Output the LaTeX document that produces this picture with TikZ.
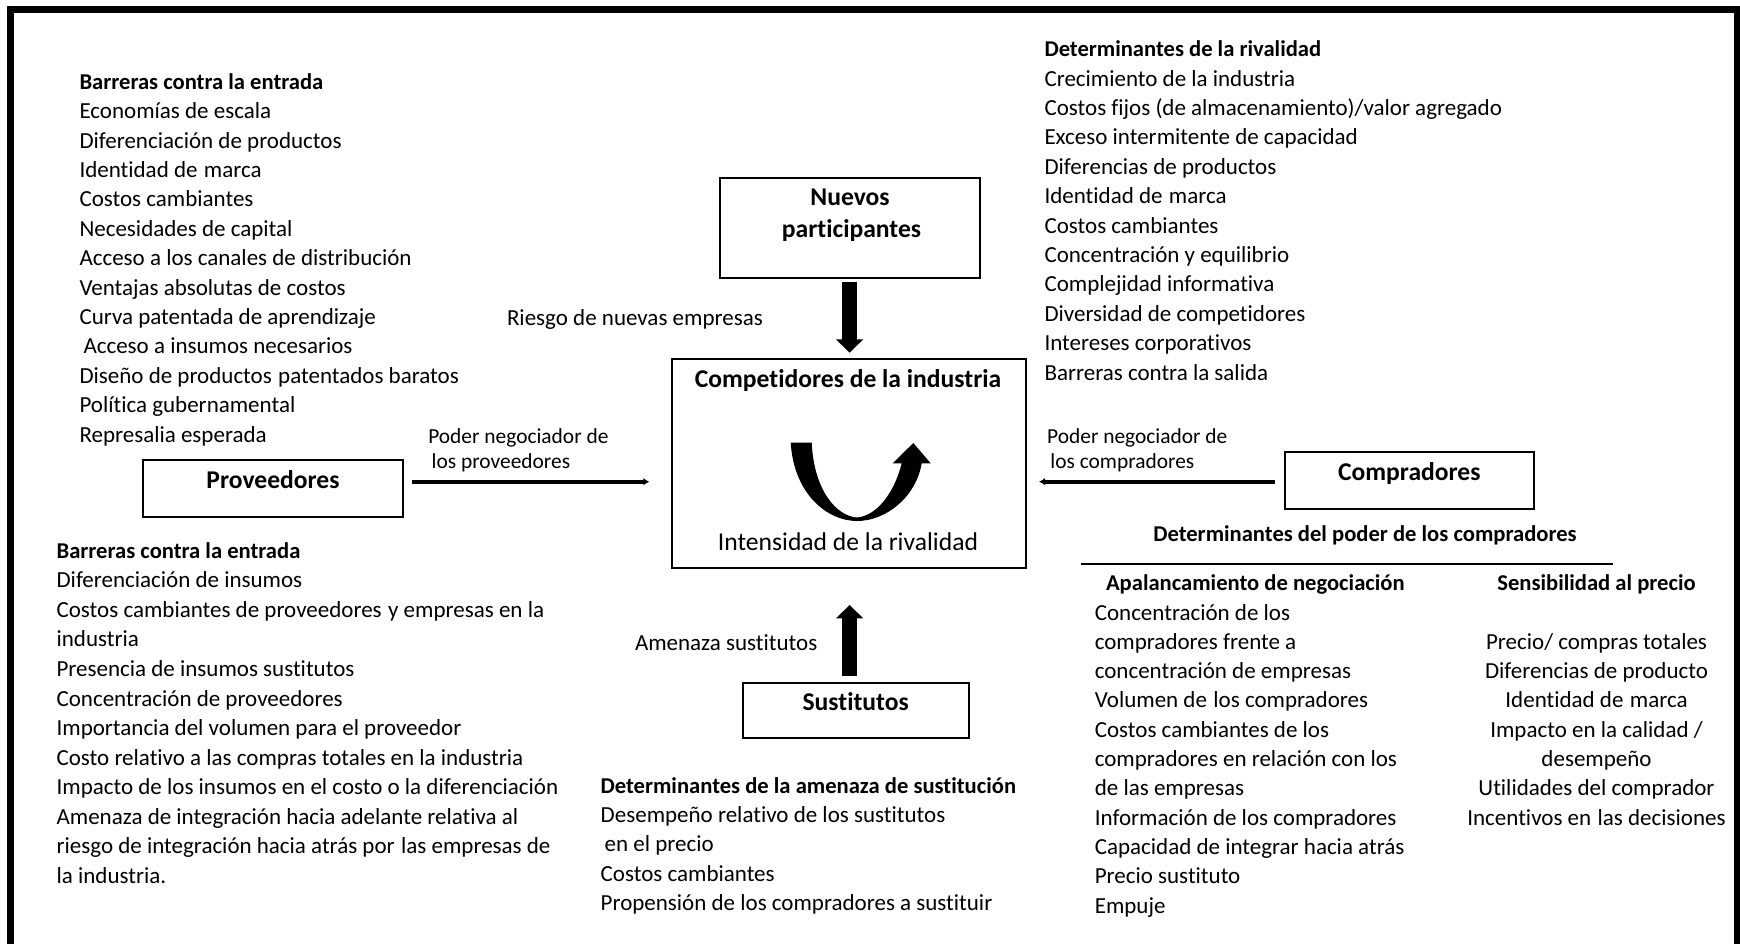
\documentclass[tikz,border=0pt]{standalone}
\usepackage{fontspec}
\setmainfont[Ligatures=NoCommon]{Carlito}
\usetikzlibrary{arrows.meta}
\newcommand\dsp{\hspace{0.28em}}
\begin{document}
\begin{tikzpicture}[x=0.5pt,y=-0.5pt,
  every node/.style={inner sep=0pt, outer sep=0pt},
  txt/.style={anchor=base west, font=\fontsize{11.5}{13.5}\selectfont},
  btxt/.style={anchor=base west, font=\fontsize{11.3}{13.5}\selectfont\bfseries},
  ctxt/.style={anchor=base, font=\fontsize{11.5}{13.5}\selectfont},
  cbtxt/.style={anchor=base, font=\fontsize{11.3}{13.5}\selectfont\bfseries},
  bigtxt/.style={anchor=base, font=\fontsize{12.8}{15}\selectfont},
  bigbtxt/.style={anchor=base, font=\fontsize{12.8}{15}\selectfont\bfseries},
  stxt/.style={anchor=base west, font=\fontsize{10.7}{12}\selectfont},
  boxn/.style={draw, line width=1pt, text height=0pt, text depth=0pt, font=\fontsize{12.8}{15}\selectfont\bfseries},
  bigarrow/.style={line width=7.2pt, -{Triangle[length=6.7pt,width=13.3pt]}},
  thinarrow/.style={line width=2pt, -{Latex[length=3pt,width=3.8pt]}}
]
\useasboundingbox (0,0) rectangle (1740,943);
\fill[white] (0,0) rectangle (1740,943);
% outer frame (open at the bottom)
\draw[line width=3.3pt, line join=miter] (10.5,970) -- (10.5,9.5) -- (1737,9.5) -- (1737,970);

% ---------- boxes ----------
\node[draw, line width=1pt, minimum width=130pt, minimum height=50pt] (nuevos) at (850,228.3) {};
\node[bigbtxt] (nuevos1) at (850,205) {Nuevos};
\node[bigbtxt] (nuevos2) at (851.5,237.3) {participantes};

\node[draw, line width=1pt, minimum width=177.15pt, minimum height=104.5pt] (comp) at (848.85,463.8) {};
\node[bigbtxt] (comp1) at (848,387.3) {Competidores de la industria};
\node[bigtxt] (comp2) at (848,550) {Intensidad de la rivalidad};

\node[boxn, minimum width=130.3pt, minimum height=28.35pt] (prov) at (273,488.35) {Proveedores};
\node[boxn, minimum width=124.3pt, minimum height=28.8pt] (compr) at (1409.3,480.5) {Compradores};
\node[boxn, minimum width=113pt, minimum height=27.5pt] (sust) at (855.7,710.2) {Sustitutos};

% ---------- arrows ----------
\coordinate (ax) at (849.6,0);
\coordinate (ay) at (0,481.7);
\draw[bigarrow, shorten <=1.7pt, shorten >=3.3pt] (nuevos.south -| ax) -- (comp.north -| ax);
\draw[bigarrow, shorten <=3.5pt, shorten >=18.35pt] (sust.north -| ax) -- (comp.south -| ax);
\draw[thinarrow, shorten <=4.2pt, shorten >=11.2pt] (prov.east |- ay) -- (comp.west |- ay);
\draw[thinarrow, shorten <=5.2pt, shorten >=6.5pt] (compr.west |- ay) -- (comp.east |- ay);

% U-shaped arrow (intensity of rivalry)
\fill (790.7,442.7) .. controls (794,495) and (828,521) .. (857,521)
      .. controls (886,521) and (916,497) .. (921.7,463.3)
      -- (930.7,463.3) -- (913.3,443) -- (892.7,463.3) -- (901.7,463.3)
      .. controls (894,494) and (876,516) .. (857,517.5)
      .. controls (836,516) and (814,490) .. (811.7,442.7) -- cycle;

% ---------- labels on arrows ----------
\node[txt] (riesgo) at (507,325.5) {Riesgo de nuevas empresas};
\node[txt] (amenaza) at (635,650) {Amenaza sustitutos};
\node[stxt] (pnp1) at (428.3,443.3) {Poder negociador de};
\node[stxt] (pnp2) at (431.7,468.6) {los proveedores};
\node[stxt] (pnc1) at (1047.2,443.3) {Poder negociador de};
\node[stxt] (pnc2) at (1050.4,468.6) {los compradores};

% ---------- barriers to entry (top left) ----------
\node[btxt] (a0) at (79.5,89.3) {Barreras contra la entrada};
\foreach \t [count=\i from 1] in {Economías de escala,Diferenciación de productos,Identidad de\dsp marca,Costos cambiantes,Necesidades de capital,Acceso a los canales de distribución,Ventajas absolutas de costos,Curva patentada de aprendizaje,\hspace*{2pt}Acceso a insumos necesarios,Diseño de productos\dsp patentados baratos,Política gubernamental,Represalia esperada}
  \node[txt] (a\i) at (79.5,{89.3+29.4*\i}) {\t};

% ---------- determinants of rivalry (top right) ----------
\node[btxt] (b0) at (1044.5,56.7) {Determinantes de la rivalidad};
\foreach \t [count=\i from 1] in {Crecimiento de la industria,Costos fijos (de almacenamiento)/valor agregado,Exceso intermitente de capacidad,Diferencias de productos,Identidad de\dsp marca,Costos cambiantes,Concentración y equilibrio,Complejidad informativa,Diversidad de competidores,Intereses corporativos,Barreras contra la salida}
  \node[txt] (b\i) at (1044.5,{56.7+29.4*\i}) {\t};

% ---------- supplier power (bottom left) ----------
\node[btxt] (c0) at (56.6,558.3) {Barreras contra la entrada};
\foreach \t [count=\i from 1] in {Diferenciación de insumos,Costos cambiantes de proveedores\dsp y empresas en la,industria,Presencia de insumos sustitutos,Concentración de proveedores,Importancia del volumen para el proveedor,Costo relativo a las compras totales en la industria,Impacto de los insumos en el costo o la diferenciación,Amenaza de integración hacia adelante relativa al,riesgo de integración hacia atrás por\dsp las empresas de,la industria.}
  \node[txt] (c\i) at (56.6,{558.3+29.55*\i}) {\t};

% ---------- threat of substitution (bottom centre) ----------
\node[btxt] (d0) at (600.7,793.3) {Determinantes de la amenaza de sustitución};
\foreach \t [count=\i from 1] in {Desempeño relativo de los sustitutos,\hspace*{2pt}en el precio,Costos cambiantes,Propensión de los compradores a sustituir}
  \node[txt] (d\i) at (600.7,{793.3+29.25*\i}) {\t};

% ---------- buyer power (bottom right) ----------
\node[cbtxt] (e0) at (1365,541.7) {Determinantes del poder de los compradores};
\draw[line width=0.9pt] (1080.7,564) -- (1613.3,564);
\node[btxt] (e1) at (1106,590) {Apalancamiento de negociación};
\node[cbtxt] (e2) at (1596.5,590) {Sensibilidad al precio};
\foreach \t [count=\i from 0] in {Concentración de los,compradores frente a,concentración de empresas,Volumen de\dsp los compradores,Costos cambiantes de los,compradores en relación con los,de las empresas,Información de los compradores,Capacidad de integrar hacia atrás,Precio sustituto,Empuje}
  \node[txt] (f\i) at (1094.8,{620+29.3*\i}) {\t};
\foreach \t [count=\i from 1] in {Precio/ compras totales,Diferencias de producto,Identidad de\dsp marca,Impacto en la calidad /,desempeño,Utilidades del comprador,Incentivos en\dsp las decisiones}
  \node[ctxt] (g\i) at (1596.5,{620+29.3*\i}) {\t};
\end{tikzpicture}
\end{document}
